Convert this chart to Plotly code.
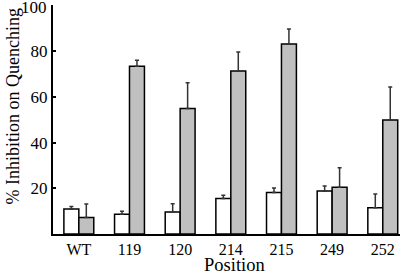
import plotly.graph_objects as go

categories = ["WT", "119", "120", "214", "215", "249", "252"]
white_vals = [10.9, 8.6, 9.6, 15.5, 18.2, 18.8, 11.5]
white_err = [1.1, 1.4, 3.6, 1.5, 2.0, 2.2, 6.0]
gray_vals = [7.2, 73.5, 55.0, 71.4, 83.2, 20.5, 49.9]
gray_err = [5.9, 2.6, 11.2, 8.3, 6.6, 8.5, 14.5]
y_ticks = [20, 40, 60, 80, 100]
x_title = "Position"
y_title = "% Inhibition on Quenching"

font_family = "Liberation Serif"

fig = go.Figure()
for vals, errs, color in [(white_vals, white_err, "white"), (gray_vals, gray_err, "#c0c0c0")]:
    fig.add_trace(go.Bar(
        x=categories, y=vals,
        marker=dict(color=color, line=dict(color="black", width=1.5)),
        error_y=dict(type="data", array=errs, arrayminus=[0] * len(errs), symmetric=False,
                     color="#333333", thickness=1.5, width=2),
        showlegend=False,
    ))

top_tick = y_ticks[-1]
fig.update_layout(
    width=410, height=272,
    margin=dict(l=53, r=10, t=5, b=38),
    paper_bgcolor="white", plot_bgcolor="white",
    barmode="group", bargap=0.41, bargroupgap=0,
    font=dict(family=font_family, color="black", size=16),
    xaxis=dict(
        range=[-0.51, 6.34], showline=True, linecolor="black", linewidth=2,
        ticks="", tickfont=dict(size=16),
        automargin=False, showgrid=False, zeroline=False,
    ),
    yaxis=dict(
        range=[0, 100.3], showline=True, linecolor="black", linewidth=2,
        tickvals=y_ticks, ticktext=[str(v) if v != top_tick else "" for v in y_ticks],
        ticks="inside", ticklen=3, tickwidth=2, tickcolor="black",
        tickfont=dict(size=17),
        automargin=False, showgrid=False, zeroline=False,
    ),
    annotations=[
        dict(text=str(top_tick), xref="paper", yref="y", x=0, y=top_tick, xanchor="right",
             yanchor="middle", xshift=-4, yshift=-2, showarrow=False, font=dict(size=17)),
        dict(text=x_title, xref="paper", yref="paper", x=0.5, y=0, xanchor="center",
             yanchor="middle", xshift=8, yshift=-31, showarrow=False, font=dict(size=18.5)),
        dict(text=y_title, xref="paper", yref="paper", x=0, y=0.5, textangle=-90,
             xanchor="center", yanchor="middle", xshift=-41, yshift=13, showarrow=False,
             font=dict(size=18)),
    ],
)

fig.write_html("out.html", config={"displayModeBar": False},
               post_script="document.body.style.margin='0';")
